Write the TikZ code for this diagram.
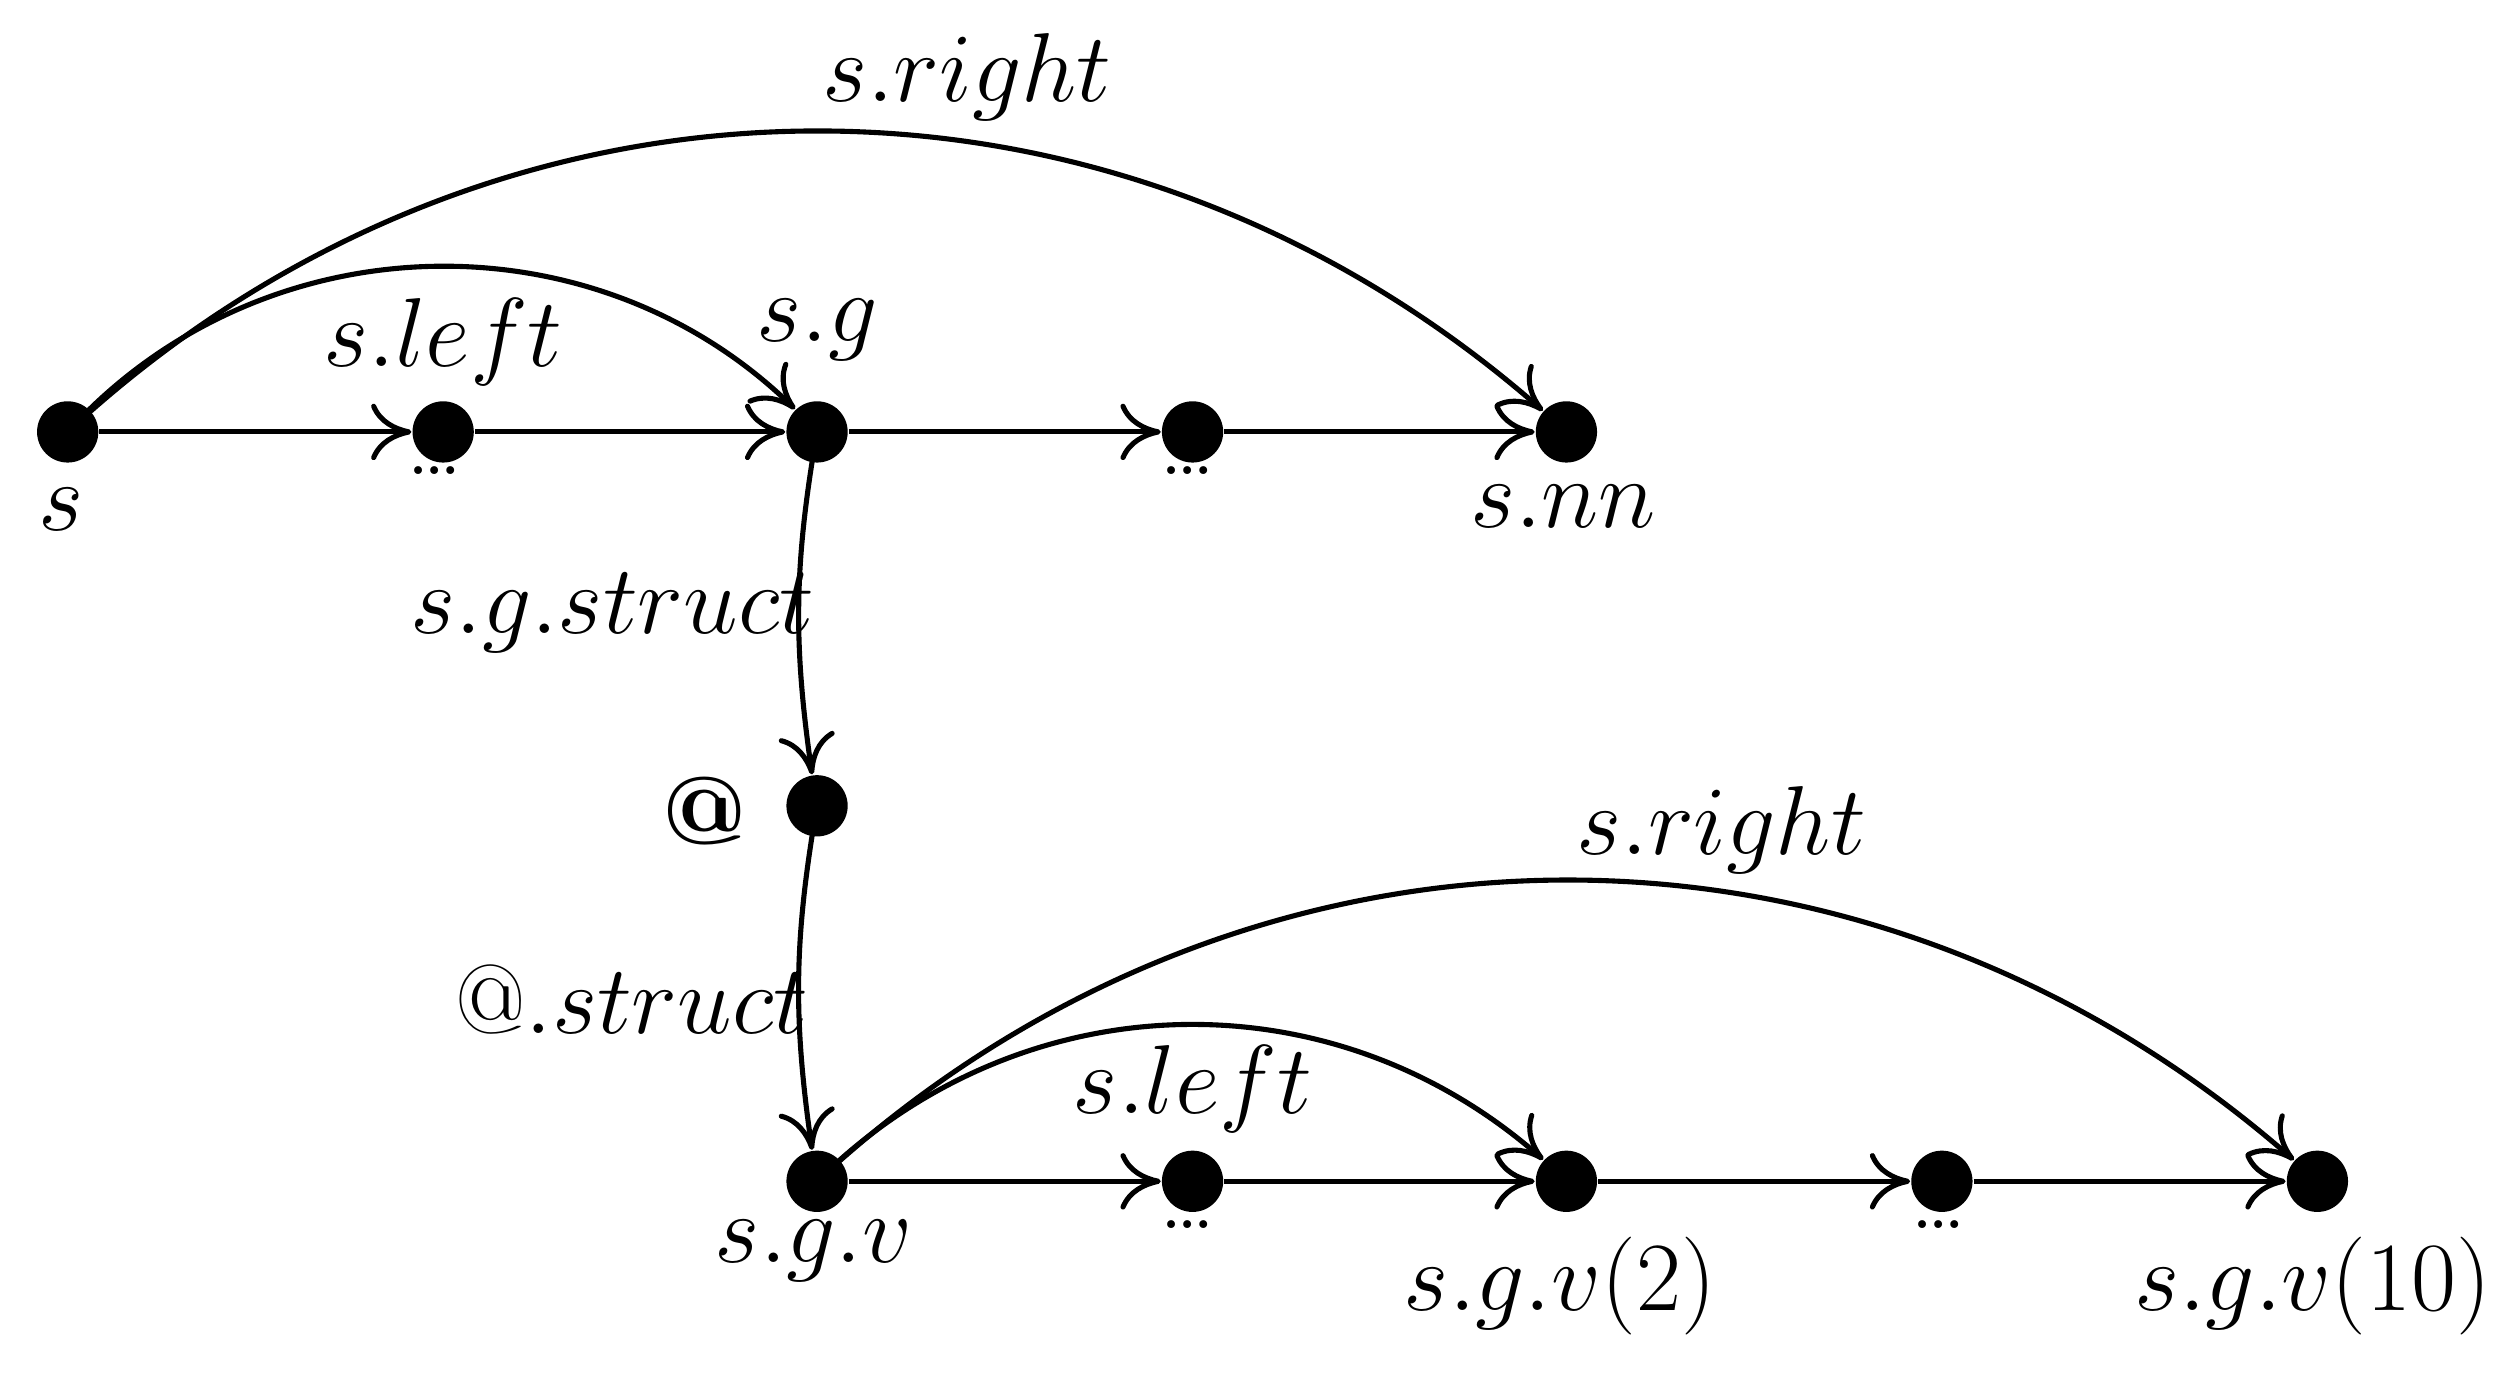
\documentclass[tikz,border=0pt]{standalone}
\usetikzlibrary{arrows.meta}
\begin{document}
\begin{tikzpicture}[x=0.01cm,y=-0.01cm,
  dot/.style={circle,fill=black,inner sep=0pt,minimum size=0.38cm},
  lbl/.style={font=\fontsize{17}{20}\selectfont},
  arr/.style={-{To[length=2.5mm,width=3.5mm]},line width=0.9pt}]
\useasboundingbox (0,0) rectangle (1560,853);
\node[dot] (s) at (42,268) {};
\node[dot] (a) at (275,268) {};
\node[dot] (g) at (507,268) {};
\node[dot] (b) at (740,268) {};
\node[dot] (nn) at (972,268) {};
\node[dot] (at) at (507,500) {};
\node[dot] (v) at (507,733) {};
\node[dot] (c) at (740,733) {};
\node[dot] (v2) at (972,733) {};
\node[dot] (d) at (1205,733) {};
\node[dot] (v10) at (1438,733) {};
\draw[arr] (s) -- (a);
\draw[arr] (a) -- (g);
\draw[arr] (g) -- (b);
\draw[arr] (b) -- (nn);
\draw[arr] (v) -- (c);
\draw[arr] (c) -- (v2);
\draw[arr] (v2) -- (d);
\draw[arr] (d) -- (v10);
\draw[arr] (s.center) to[bend left=46] (g);
\draw[arr] (s.center) to[bend left=42] (nn);
\draw[arr] (v.center) to[bend left=43] (v2);
\draw[arr] (v.center) to[bend left=42] (v10);
\draw[arr] (g.center) to[bend right=9] (at);
\draw[arr] (at.center) to[bend right=9] (v);
\node[lbl] (l1) at (600,48) {$s.right$};
\node[lbl] (l2) at (275,212) {$s.left$};
\node[lbl] (l3) at (507,205) {$s.g$};
\node[lbl] (l4) at (38,316) {$s$};
\node[lbl] (l5) at (270,292) {\dots};
\node[lbl] (l6) at (737,292) {\dots};
\node[lbl] (l7) at (970,314) {$s.nn$};
\node[lbl] (l8) at (380,380) {$s.g.struct$};
\node[lbl] (l9) at (437,503) {\textbf{@}};
\node[lbl] (l10) at (392,620) {$@.struct$};
\node[lbl] (l11) at (1068,515) {$s.right$};
\node[lbl] (l12) at (740,676) {$s.left$};
\node[lbl] (l13) at (505,776) {$s.g.v$};
\node[lbl] (l14) at (737,760) {\dots};
\node[lbl] (l15) at (1203,760) {\dots};
\node[lbl] (l16) at (968,798) {$s.g.v(2)$};
\node[lbl] (l17) at (1435,798) {$s.g.v(10)$};
\end{tikzpicture}
\end{document}
